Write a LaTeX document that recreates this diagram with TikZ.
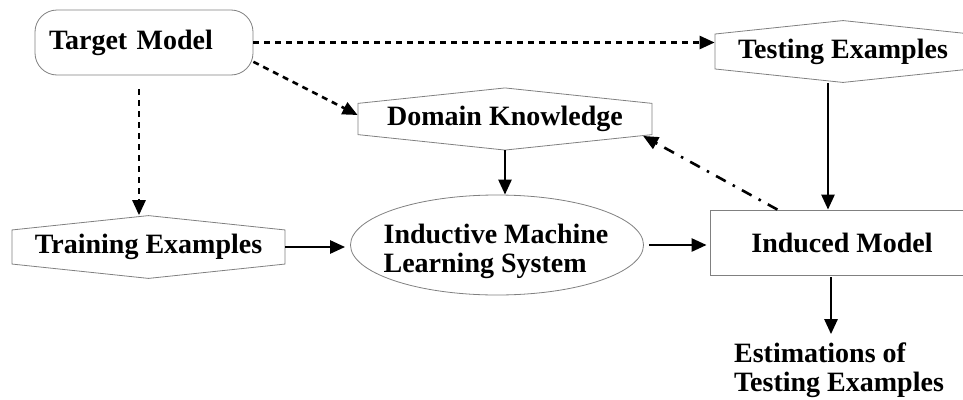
\documentclass[tikz,border=0pt]{standalone}
\usepackage{fontspec}
\setmainfont{Liberation Serif}
\usetikzlibrary{shapes.geometric,shapes.symbols,arrows.meta}

\tikzset{
    box/.style={draw=gray,line width=.8pt,font=\bfseries\fontsize{28}{29}\selectfont},
    hexa/.style={box,signal,signal to=north and south,signal pointer angle=168,inner sep=0pt},
    arr/.style={line width=2.6pt,-{Triangle[length=15pt,width=13pt]}},
    dots/.style={arr,dash pattern=on 6pt off 5pt},
    dashdot/.style={arr,dash pattern=on 11pt off 8pt on 2.5pt off 8pt},
}

\begin{document}
\begin{tikzpicture}[x=1pt,y=-1pt]
    \useasboundingbox (0,0) rectangle (963,399);

    %%nodes
    \node[box,rounded corners=22pt,minimum width=218pt,minimum height=65pt,text width=190pt,align=left] (tm) at(144,42.5){Target Model};
    \node[hexa,minimum width=256pt,minimum height=57pt] (te) at(843,51.5){Testing Examples};
    \node[hexa,minimum width=294pt,minimum height=56pt] (dk) at(505,119){Domain Knowledge};
    \node[hexa,minimum width=273pt,minimum height=58pt] (tr) at(148.5,247){Training Examples};
    \node[box,ellipse,minimum width=293pt,minimum height=100pt,inner sep=0pt] (ims) at(497,245){};
        \node[box,draw=none,align=left,inner sep=0pt] (imstext) at(496,251){Inductive Machine\\Learning System};
    \node[box,minimum width=264pt,minimum height=65pt] (im) at(842,242.5){Induced Model};
    \node[box,draw=none,align=left,inner sep=0pt] (est) at(839,370){Estimations of\\Testing Examples};

    %%arrows
    \draw[dots] (tm.east) to (tm.east -| te.west);
    \draw[dots] (tm.-10.5) to ([yshift=4pt]dk.west);
    \draw[dots,shorten <=14pt] ([xshift=-5pt]tm.south) to ([xshift=-5pt]tm.south |- tr.north);
    \draw[arr] (dk.south) to (dk.south |- ims.north);
    \draw[arr] ([xshift=-15pt]te.south) to ([xshift=-15pt]te.south |- im.north);
    \draw[dashdot] (im.153) to (dk.-7);
    \draw[arr,shorten >=5pt] (tr.east) to (tr.east -| ims.west);
    \draw[arr,shorten <=5pt,shorten >=3pt] (ims.east) to (ims.east -| im.west);
    \draw[arr,shorten <=2pt,shorten >=8pt] ([xshift=-11pt]im.south) to ([xshift=-11pt]im.south |- est.north);
\end{tikzpicture}
\end{document}
